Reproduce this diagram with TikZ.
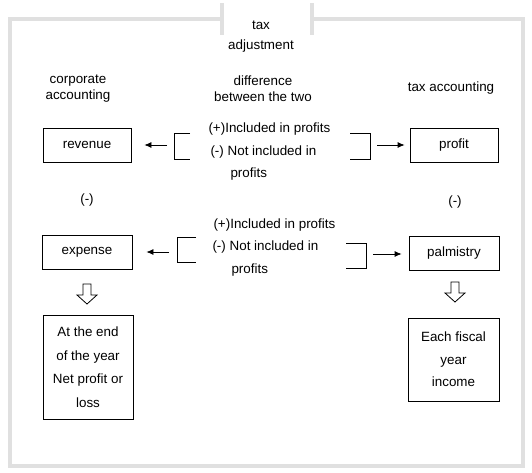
\documentclass[tikz,border=0pt]{standalone}
\usepackage{fontspec}
\setmainfont{Liberation Sans}
\usetikzlibrary{arrows.meta}
\definecolor{framegray}{RGB}{224,224,224}

\begin{document}
\begin{tikzpicture} [x = 1pt, y = -1pt, font = \fontsize{13.4}{16}\selectfont,
	box/.style = {draw, line width = 0.8pt, inner sep = 0pt, align = center},
	tip/.style = {line width = 0.8pt, -{Latex[length = 7pt, width = 6pt]}},
	brace/.style = {line width = 0.8pt},
	hollow/.style = {draw, line width = 0.8pt, fill = white}]
	\useasboundingbox (0,0) rectangle (532,473);
	% grey frame with the gap at the top
	\draw [framegray, line width = 4pt] (222,19) -- (10,19) -- (10,466) -- (523,466) -- (523,19) -- (312,19);
	\draw [framegray, line width = 4pt] (222,3) -- (222,35);
	\draw [framegray, line width = 4pt] (312,3) -- (312,35);
	\node (tax) at (261,25) {tax};
	\node (adj) at (261,46) {adjustment};
	% column headings
	\node [align = center] (corp) at (78,89) {corporate\\accounting};
	\node [align = center] (diff) at (263,89) {difference\\between the two};
	\node (taxacc) at (451,88) {tax accounting};
	% boxes
	\node [box, minimum width = 88, minimum height = 34] (revenue) at (87,145) {revenue};
	\node [box, minimum width = 88, minimum height = 34] (profit) at (454,145) {profit};
	\node [box, minimum width = 90, minimum height = 34] (expense) at (87,252) {expense};
	\node [box, minimum width = 90, minimum height = 34] (palmistry) at (454,253) {palmistry};
	\node (minusL) at (87,200) {(-)};
	\node (minusR) at (455,202) {(-)};
	\node [box, minimum width = 90, minimum height = 104, font = \fontsize{13.4}{23.5}\selectfont] (yearend) at (88,367) {At the end\\of the year\\Net profit or\\loss};
	\node [box, minimum width = 91, minimum height = 83, font = \fontsize{13.4}{22.5}\selectfont] (fiscal) at (453.5,359.5) {Each fiscal\\year\\income};
	% upper difference
	\draw [brace] (190,133) -- (174,133) -- (174,159) -- (190,159);
	\draw [brace] (350,133) -- (370,133) -- (370,159) -- (350,159);
	\node [anchor = west] (incA) at (205,129) {(+)Included in profits};
	\node [anchor = west] (notA) at (207,152) {(-) Not included in};
	\node [anchor = west] (prfA) at (227,174) {profits};
	\coordinate (upL) at (167,145);
	\coordinate (upR) at (377,145);
	\draw [tip, shorten > = 13pt] (upL) -- (upL -| revenue.east);
	\draw [tip, shorten > = 5pt] (upR) -- (upR -| profit.west);
	% lower difference
	\draw [brace] (196,237) -- (177,237) -- (177,262) -- (196,262);
	\draw [brace] (346,243) -- (366,243) -- (366,268) -- (346,268);
	\node [anchor = west] (incB) at (210,225) {(+)Included in profits};
	\node [anchor = west] (notB) at (209,247) {(-) Not included in};
	\node [anchor = west] (prfB) at (228,270) {profits};
	\coordinate (loL) at (169,252);
	\coordinate (loR) at (373,254);
	\draw [tip, shorten > = 14pt] (loL) -- (loL -| expense.east);
	\draw [tip, shorten > = 7pt] (loR) -- (loR -| palmistry.west);
	% hollow down arrows
	\draw [hollow] (83,284) -- (91,284) -- (91,295) -- (97,295) -- (87,304) -- (77,295) -- (83,295) -- cycle;
	\draw [hollow] (451,282) -- (459,282) -- (459,293) -- (465,293) -- (455,302) -- (445,293) -- (451,293) -- cycle;
\end{tikzpicture}
\end{document}
